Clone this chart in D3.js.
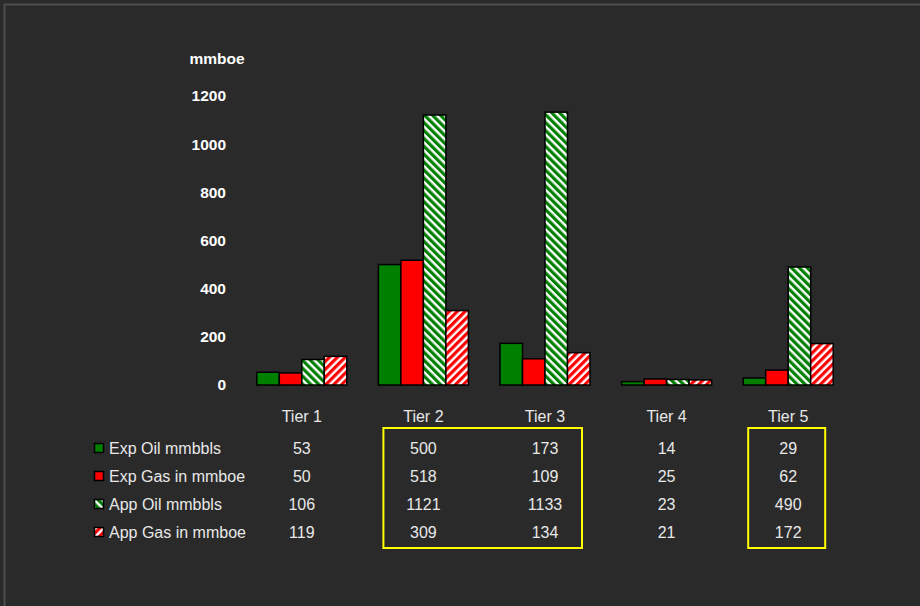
<!DOCTYPE html>
<html>
<head>
<meta charset="utf-8">
<script src="https://cdn.jsdelivr.net/npm/d3@7/dist/d3.min.js"></script>
<style>
  html, body { margin: 0; padding: 0; background: #2a2a2a; }
  svg { display: block; }
  text { font-family: "Liberation Sans", Arial, sans-serif; }
</style>
</head>
<body>
<svg id="chart" width="920" height="606"></svg>
<script>
// Reserves by tier
const tiers = ["Tier 1", "Tier 2", "Tier 3", "Tier 4", "Tier 5"];
const seriesNames = ["Exp Oil mmbbls", "Exp Gas in mmboe", "App Oil mmbbls", "App Gas in mmboe"];
const expOil = [53, 500, 173, 14, 29];
const expGas = [50, 518, 109, 25, 62];
const appOil = [106, 1121, 1133, 23, 490];
const appGas = [119, 309, 134, 21, 172];
const yTicks = [0, 200, 400, 600, 800, 1000, 1200];
const highlighted = [["Tier 2", "Tier 3"], ["Tier 5"]];

const seriesValues = [expOil, expGas, appOil, appGas];

const svg = d3.select("#chart");
const W = 920, H = 606;

svg.append("rect").attr("width", W).attr("height", H).attr("fill", "#2a2a2a");
// frame on the top and left edges
svg.append("path")
  .attr("d", `M4.5,${H} V4.5 H${W}`)
  .attr("fill", "none").attr("stroke", "#4c4c4c").attr("stroke-width", 2);

// stripe fills
const defs = svg.append("defs");
function stripes(id, color, angle) {
  const p = defs.append("pattern")
    .attr("id", id).attr("patternUnits", "userSpaceOnUse")
    .attr("width", 5.6).attr("height", 6)
    .attr("patternTransform", `rotate(${angle})`);
  p.append("rect").attr("width", 5.6).attr("height", 6).attr("fill", "#ffffff");
  p.append("rect").attr("width", 3.2).attr("height", 6).attr("fill", color);
}
stripes("hatchGreen", "#008000", -45);
stripes("hatchRed", "#ff0000", 45);

const fills = ["#008000", "#ff0000", "url(#hatchGreen)", "url(#hatchRed)"];

const y = d3.scaleLinear().domain([0, 1200]).range([385, 96]);
const x = d3.scaleBand().domain(tiers).range([241, 849]).paddingInner(0.26).paddingOuter(0.13);
const xs = d3.scaleBand().domain(d3.range(seriesNames.length)).range([0, x.bandwidth()]);

// y axis (labels only)
const yAxis = d3.axisLeft(y).tickValues(yTicks).tickFormat(d3.format("d")).tickSize(0).tickPadding(0);
const gy = svg.append("g").attr("transform", "translate(226,0)").call(yAxis);
gy.select(".domain").remove();
gy.selectAll("text")
  .attr("fill", "#ffffff").attr("font-size", 15.5).attr("font-weight", "bold")
  .style("font-family", "'Liberation Sans', Arial, sans-serif");

svg.append("text").attr("x", 217).attr("y", 59).attr("dy", "0.35em")
  .attr("text-anchor", "middle").attr("fill", "#ffffff")
  .attr("font-size", 15.5).attr("font-weight", "bold").text("mmboe");

// bars
const groups = svg.append("g").selectAll("g").data(tiers).join("g")
  .attr("transform", d => `translate(${x(d)},0)`);
groups.selectAll("rect")
  .data((t, ti) => seriesValues.map((vals, si) => ({ si, v: vals[ti] })))
  .join("rect")
  .attr("x", d => xs(d.si))
  .attr("y", d => y(d.v))
  .attr("width", xs.bandwidth())
  .attr("height", d => y(0) - y(d.v))
  .attr("fill", d => fills[d.si])
  .attr("stroke", "#000000").attr("stroke-width", 1.5);

// category labels
const cx = t => x(t) + x.bandwidth() / 2;
svg.append("g").selectAll("text").data(tiers).join("text")
  .attr("x", d => cx(d)).attr("y", 416).attr("dy", "0.35em")
  .attr("text-anchor", "middle").attr("fill", "#e8e8e8").attr("font-size", 16)
  .text(d => d);

// data table
const rowY = [448, 476, 504, 532];
const table = svg.append("g");
seriesNames.forEach((name, si) => {
  table.append("rect")
    .attr("x", 94.5).attr("y", rowY[si] - 4.5).attr("width", 9).attr("height", 9)
    .attr("fill", fills[si]).attr("stroke", "#000000").attr("stroke-width", 1.5);
  table.append("text")
    .attr("x", 109).attr("y", rowY[si]).attr("dy", "0.35em")
    .attr("fill", "#e8e8e8").attr("font-size", 16).text(name);
  tiers.forEach((t, ti) => {
    table.append("text")
      .attr("x", cx(t)).attr("y", rowY[si]).attr("dy", "0.35em")
      .attr("text-anchor", "middle").attr("fill", "#e8e8e8").attr("font-size", 16)
      .text(seriesValues[si][ti]);
  });
});

// highlight boxes around selected tiers
highlighted.forEach(grp => {
  const x0 = cx(grp[0]) - 40;
  const x1 = cx(grp[grp.length - 1]) + 37;
  svg.append("rect")
    .attr("x", x0).attr("y", 428).attr("width", x1 - x0).attr("height", 120)
    .attr("fill", "none").attr("stroke", "#ffff00").attr("stroke-width", 2);
});
</script>
</body>
</html>
